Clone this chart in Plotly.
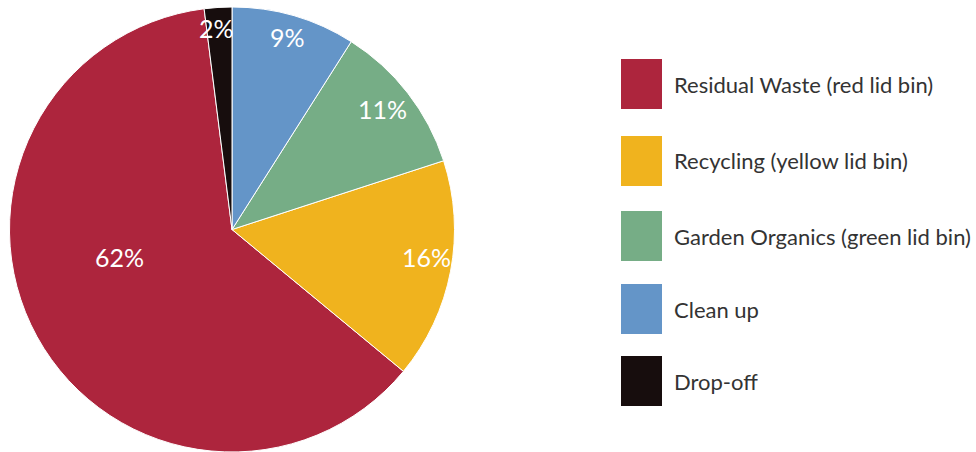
import math
import plotly.graph_objects as go

# Waste stream shares (percent)
labels = [
    "Residual Waste (red lid bin)",
    "Recycling (yellow lid bin)",
    "Garden Organics (green lid bin)",
    "Clean up",
    "Drop-off",
]
shares = [62, 16, 11, 9, 2]
colors = ["#AD253D", "#F0B31E", "#76AD86", "#6495C8", "#170D0D"]

W, H = 976, 452

# Pie geometry (pixels)
CX, CY, R = 232, 230, 223

# Percentage label placement inside each slice: radial fraction and
# angular nudge (degrees) from the slice's mid-angle
label_rfrac = [0.52, 0.88, 0.865, 0.90, 0.91]
label_dtheta = [15.5, -3.0, -0.9, 0.0, -0.8]

total = sum(shares)
# The first slice sits clockwise of the rotation line; the rest follow
# counterclockwise, so Clean up starts at 12 o'clock going clockwise.
start = 360 * sum(shares[1:4]) / total

fig = go.Figure()
fig.add_trace(go.Pie(
    labels=labels,
    values=shares,
    sort=False,
    direction="counterclockwise",
    rotation=start,
    marker=dict(colors=colors, line=dict(color="white", width=1)),
    textinfo="none",
    hoverinfo="label+percent",
    showlegend=False,
    domain=dict(x=[(CX - R) / W, (CX + R) / W],
                y=[max(0, 1 - (CY + R) / H), 1 - (CY - R) / H]),
))

annotations, shapes = [], []

# Percent labels at angles derived from the slice values
edges = []
a = start + 360 * shares[0] / total  # clockwise end of the first slice
edges.append((start, a))
a = start
for v in shares[1:]:
    a1 = a - 360 * v / total
    edges.append((a1, a))
    a = a1
for i, v in enumerate(shares):
    lo, hi = edges[i]
    theta = math.radians((lo + hi) / 2 + label_dtheta[i])
    r = R * label_rfrac[i]
    px = CX + r * math.sin(theta)
    py = CY - r * math.cos(theta)
    annotations.append(dict(
        text=f"{v}%", xref="paper", yref="paper",
        x=px / W, y=1 - py / H, xanchor="center", yanchor="middle",
        showarrow=False,
        font=dict(family="Lato", size=25, color="white"),
    ))

# Legend drawn as large colour swatches with labels
row_top = [59, 136, 211, 284, 356]
for i, (lab, col) in enumerate(zip(labels, colors)):
    y0 = row_top[i]
    shapes.append(dict(
        type="rect", xref="paper", yref="paper",
        x0=621 / W, x1=662 / W,
        y0=1 - (y0 + 50) / H, y1=1 - y0 / H,
        fillcolor=col, line=dict(width=0),
    ))
    annotations.append(dict(
        text=lab, xref="paper", yref="paper",
        x=672 / W, y=1 - (y0 + 25) / H,
        xanchor="left", yanchor="middle", showarrow=False,
        font=dict(family="Lato", size=22, color="#333333"),
    ))

fig.update_layout(
    width=W, height=H,
    margin=dict(l=0, r=0, t=0, b=0),
    paper_bgcolor="white",
    plot_bgcolor="white",
    shapes=shapes,
    annotations=annotations,
)

fig.write_html("out.html")
